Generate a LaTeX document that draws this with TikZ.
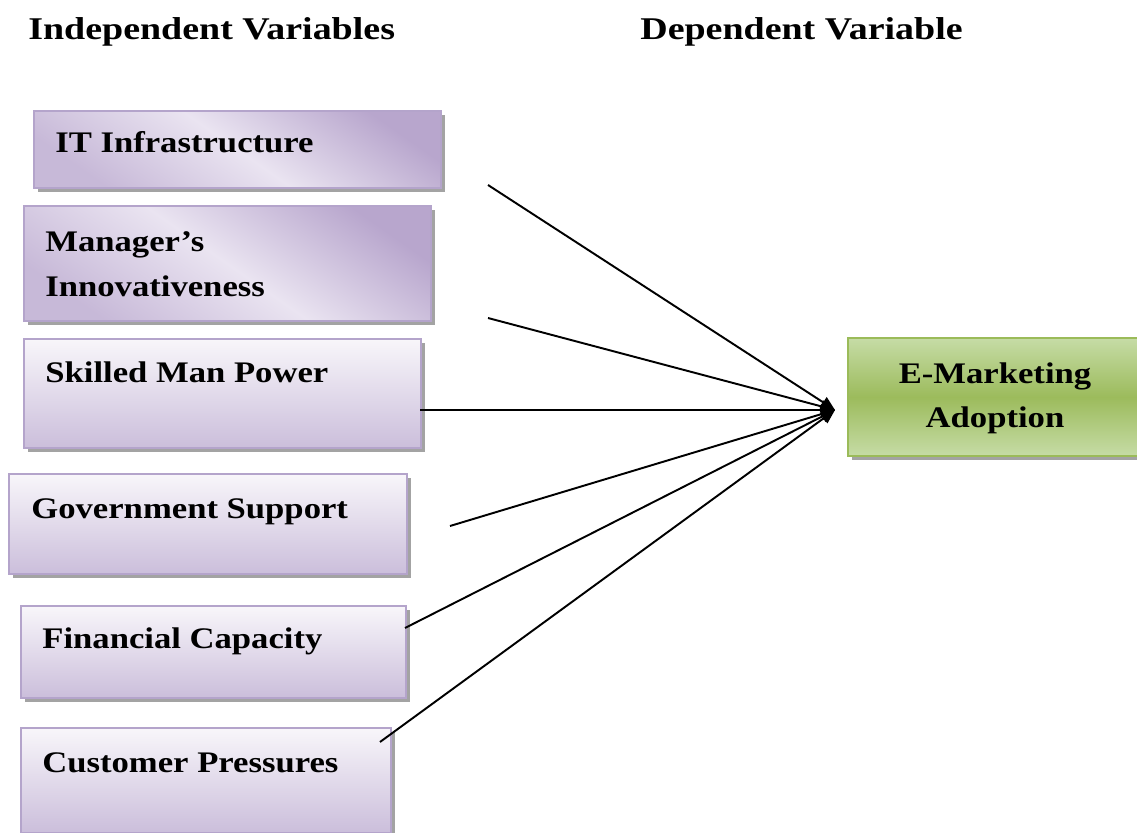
\documentclass[tikz,border=0pt]{standalone}
\usepackage{fontspec}
\setmainfont{Liberation Serif}[FakeStretch=1.16]
\newfontfamily\headfont{Liberation Serif}[FakeStretch=1.2]
\usetikzlibrary{positioning, shadows, arrows.meta}
\definecolor{LavDark}{HTML}{B8A6CD}
\definecolor{LavLight}{HTML}{EAE4F1}
\definecolor{LavBottom}{HTML}{CBBEDB}
\definecolor{LavTop}{HTML}{F8F6FA}
\definecolor{LavEdge}{HTML}{B4A4CB}
\definecolor{GreenTop}{HTML}{C6DCA6}
\definecolor{GreenMid}{HTML}{9CBB5C}
\definecolor{GreenEdge}{HTML}{9BBB59}

\begin{document}
\begin{tikzpicture}[
    font=\fontsize{17}{25.5}\selectfont\bfseries,
    varbox/.style={rectangle, draw=LavEdge, line width=1.2pt, anchor=north west, inner sep=0pt,
        drop shadow={shadow xshift=2pt, shadow yshift=-2pt, fill=black!45, opacity=0.8}},
    diagfill/.style={top color=LavDark, bottom color=LavDark!70!LavLight, middle color=LavLight, shading angle=-35},
    vertfill/.style={top color=LavTop, bottom color=LavBottom},
    depbox/.style={rectangle, draw=GreenEdge, line width=1.2pt, anchor=north west, inner sep=0pt,
        top color=GreenTop, bottom color=GreenTop, middle color=GreenMid,
        drop shadow={shadow xshift=2pt, shadow yshift=-2pt, fill=black!45, opacity=0.8}},
    txt/.style={anchor=base west, inner sep=0pt},
    head/.style={txt, font=\headfont\fontsize{18}{22}\selectfont\bfseries},
    arrow/.style={-{Triangle[length=8pt, width=7pt]}, line width=1.1pt, color=black}
]
    \useasboundingbox (0,0) rectangle (22.74,-16.66);

    \node (indep) [head] at (0.56,-0.80) {Independent Variables};
    \node (dep) [head] at (12.80,-0.80) {Dependent Variable};

    \node (it) [varbox, diagfill, minimum width=8.14cm, minimum height=1.54cm] at (0.66,-2.20) {};
    \node (itT) [txt] at (1.10,-3.06) {IT Infrastructure};

    \node (mgr) [varbox, diagfill, minimum width=8.14cm, minimum height=2.30cm] at (0.46,-4.10) {};
    \node (mgrT) [txt] at (0.90,-5.04) {Manager’s};
    \node (mgrT2) [txt] at (0.90,-5.94) {Innovativeness};

    \node (skill) [varbox, vertfill, minimum width=7.94cm, minimum height=2.18cm] at (0.46,-6.76) {};
    \node (skillT) [txt] at (0.90,-7.64) {Skilled Man Power};

    \node (gov) [varbox, vertfill, minimum width=7.96cm, minimum height=2.00cm] at (0.16,-9.46) {};
    \node (govT) [txt] at (0.62,-10.36) {Government Support};

    \node (fin) [varbox, vertfill, minimum width=7.70cm, minimum height=1.84cm] at (0.40,-12.10) {};
    \node (finT) [txt] at (0.84,-12.96) {Financial Capacity};

    \node (cust) [varbox, vertfill, minimum width=7.40cm, minimum height=2.10cm] at (0.40,-14.54) {};
    \node (custT) [txt] at (0.84,-15.44) {Customer Pressures};

    \node (ema) [depbox, minimum width=6.00cm, minimum height=2.36cm] at (16.94,-6.74) {};
    \node (emaT) [anchor=base, inner sep=0pt] at (19.90,-7.66) {E-Marketing};
    \node (emaT2) [anchor=base, inner sep=0pt] at (19.90,-8.54) {Adoption};

    \coordinate (tip) at (16.70,-8.20);
    \coordinate (itS) at (9.76,-3.70);
    \coordinate (mgrS) at (9.76,-6.36);
    \coordinate (skillS) at (8.40,-8.20);
    \coordinate (govS) at (9.00,-10.52);
    \coordinate (finS) at (8.10,-12.56);
    \coordinate (custS) at (7.60,-14.84);

    \draw[arrow] (itS) -- (tip);
    \draw[arrow] (mgrS) -- (tip);
    \draw[arrow] (skillS) -- (tip);
    \draw[arrow] (govS) -- (tip);
    \draw[arrow] (finS) -- (tip);
    \draw[arrow] (custS) -- (tip);
\end{tikzpicture}
\end{document}
